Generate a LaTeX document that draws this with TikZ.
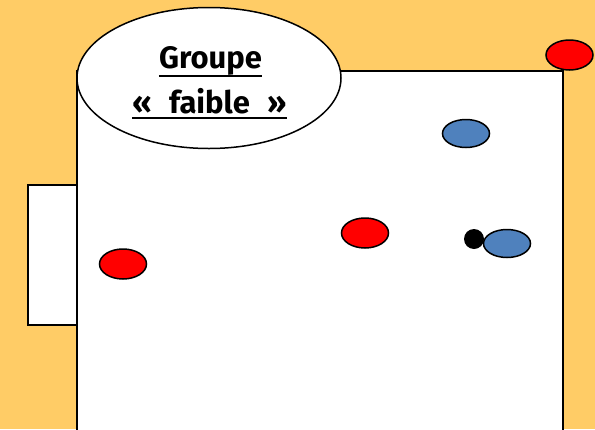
\documentclass[tikz,border=0pt]{standalone}
\usepackage{fontspec}
\setmainfont{Fira Sans}
\usetikzlibrary{shapes.geometric,calc}
\definecolor{bgor}{HTML}{FFCC66}
\definecolor{pred}{HTML}{FF0000}
\definecolor{pblue}{HTML}{4F81BD}
\tikzset{
  player/.style={ellipse, draw=black, line width=1.5pt, minimum width=47pt, minimum height=30pt, inner sep=0pt},
  redp/.style={player, fill=pred},
  bluep/.style={player, fill=pblue, minimum height=28pt},
  ballp/.style={circle, fill=black, minimum size=20pt, inner sep=0pt},
  lbl/.style={font=\bfseries\fontsize{31}{36}\selectfont, inner sep=0pt, anchor=base},
  uline/.style={line width=2.5pt}
}
\begin{document}
\begin{tikzpicture}[x=1pt,y=-1pt]
\useasboundingbox (0,0) rectangle (595,429);
\clip (0,0) rectangle (595,429);
\fill[bgor] (0,0) rectangle (595,429);
% field
\draw[line width=2pt, fill=white] (77,445) -- (77,71) -- (563,71) -- (563,445);
% goal
\node[draw=black, line width=1.8pt, fill=white, minimum width=49pt, minimum height=140pt, inner sep=0pt] (goal) at (52.5,255) {};
% title ellipse
\node[ellipse, draw=black, line width=1.5pt, fill=white, minimum width=264pt, minimum height=141pt, inner sep=0pt] (title) at (209,78) {};
\node[lbl] (t1) at (210.5,68) {Groupe};
\node[lbl] (t2) at (209.5,113) {«\hspace{10pt} faible \hspace{10pt}»};
\draw[uline] ($(t1.base west)+(0,8)$) -- ($(t1.base east)+(0,8)$);
\draw[uline] ($(t2.base west)+(0,5)$) -- ($(t2.base east)+(0,5)$);
% players
\node[redp] (r1) at (569.5,55) {};
\node[redp] (r2) at (365,233) {};
\node[redp] (r3) at (123,264) {};
\node[bluep] (b1) at (466,133.5) {};
\node[ballp] (ball) at (474,239) {};
\node[bluep] (b2) at (507,243.5) {};
\end{tikzpicture}
\end{document}
